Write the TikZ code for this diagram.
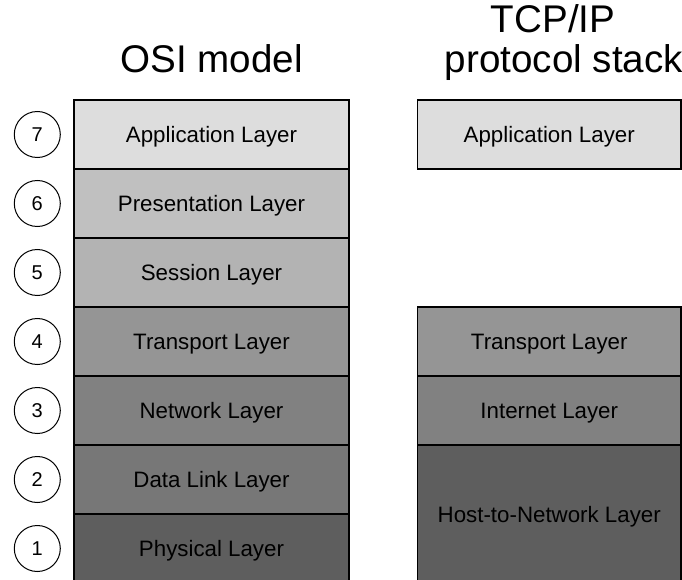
\documentclass[tikz,border=0pt]{standalone}
\usepackage{fontspec}
\setmainfont{Liberation Sans}
\definecolor{cApp}{HTML}{DDDDDD}
\definecolor{cPres}{HTML}{C0C0C0}
\definecolor{cSess}{HTML}{B3B3B3}
\definecolor{cTrans}{HTML}{959595}
\definecolor{cNet}{HTML}{818181}
\definecolor{cLink}{HTML}{777777}
\definecolor{cPhys}{HTML}{5E5E5E}
\tikzset{
  layerbox/.style={draw=black, line width=1.1pt, rectangle, inner sep=0pt, outer sep=0pt,
    font=\fontsize{22.3}{26}\selectfont, text=black, text height=16pt, text depth=0pt},
  osibox/.style={layerbox, minimum width=275pt, minimum height=69pt},
  tcpbox/.style={layerbox, minimum width=263.5pt, minimum height=69pt},
  numbubble/.style={draw=black, line width=1pt, circle, minimum size=46pt,
    inner sep=0pt, font=\fontsize{20}{22}\selectfont, text height=14pt, text depth=0pt},
  titletext/.style={font=\fontsize{38.6}{40}\selectfont, inner sep=0pt}
}
\begin{document}
\begin{tikzpicture}[x=1pt,y=-1pt]
\useasboundingbox (0,0) rectangle (682,580);
\clip (0,0) rectangle (682,580);
% titles
\node[titletext, anchor=base] (osititle) at (211.5,72.7) {OSI model};
\node[titletext, anchor=base] (tcptitle1) at (553,33) {TCP/IP};
\node[titletext, anchor=base] (tcptitle2) at (564,72.7) {protocol stack};
% OSI layers
\node[osibox, fill=cApp]   (o7) at (211.5,134.5) {Application Layer};
\node[osibox, fill=cPres]  (o6) at (211.5,203.5) {Presentation Layer};
\node[osibox, fill=cSess]  (o5) at (211.5,272.5) {Session Layer};
\node[osibox, fill=cTrans] (o4) at (211.5,341.5) {Transport Layer};
\node[osibox, fill=cNet]   (o3) at (211.5,410.5) {Network Layer};
\node[osibox, fill=cLink]  (o2) at (211.5,479.5) {Data Link Layer};
\node[osibox, fill=cPhys]  (o1) at (211.5,548.5) {Physical Layer};
% numbers
\node[numbubble] (n7) at (37.3,134.5) {7};
\node[numbubble] (n6) at (37.3,203.5) {6};
\node[numbubble] (n5) at (37.3,272.5) {5};
\node[numbubble] (n4) at (37.3,341.5) {4};
\node[numbubble] (n3) at (37.3,410.5) {3};
\node[numbubble] (n2) at (37.3,479.5) {2};
\node[numbubble] (n1) at (37.3,548.5) {1};
% TCP/IP layers
\node[tcpbox, fill=cApp]   (t4) at (549.25,134.5) {Application Layer};
\node[tcpbox, fill=cTrans] (t3) at (549.25,341.5) {Transport Layer};
\node[tcpbox, fill=cNet]   (t2) at (549.25,410.5) {Internet Layer};
\node[tcpbox, fill=cPhys, minimum height=138pt] (t1) at (549.25,514) {Host-to-Network Layer};
\end{tikzpicture}
\end{document}
